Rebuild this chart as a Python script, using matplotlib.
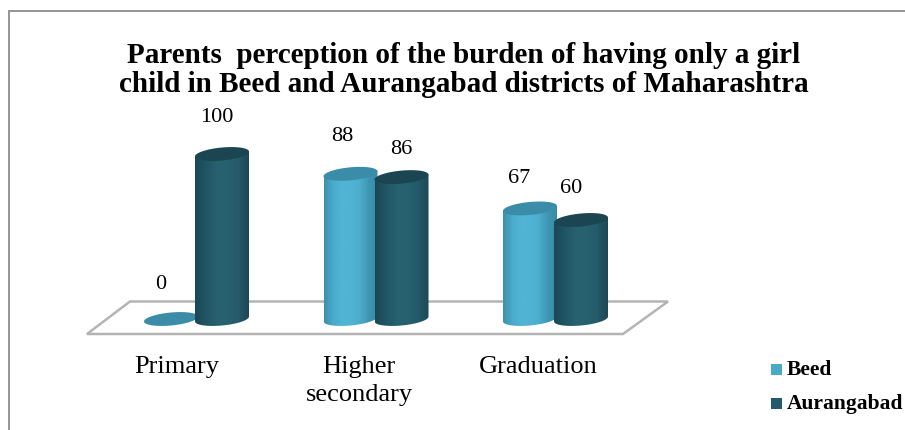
import numpy as np
import matplotlib
matplotlib.use("Agg")
import matplotlib.pyplot as plt
from matplotlib.path import Path
from matplotlib.patches import PathPatch, Polygon, Rectangle
from matplotlib.colors import LinearSegmentedColormap

W, H = 905, 431
categories = ["Primary", "Higher\nsecondary", "Graduation"]
beed = [0, 88, 67]
aurangabad = [100, 86, 60]
series_names = ["Beed", "Aurangabad"]
title = ("Parents  perception of the burden of having only a girl\n"
         "child in Beed and Aurangabad districts of Maharashtra")

plt.rcParams["font.family"] = ["Liberation Serif", "DejaVu Serif"]

# pixel geometry of the value/category scales
PX_PER_UNIT = 1.65
BASE_PX = 320.0
GROUP_PX = 179.5
FIRST_PX = 196.5
OFFSET = 25.5 / GROUP_PX
BAR_W = 27.0 / GROUP_PX
ELL_B = 6.5 / PX_PER_UNIT
SHEAR = 0.09 * GROUP_PX / PX_PER_UNIT  # value units per category unit

# label nudges in pixels (dx from bar centre, dy above bar top)
beed_nudge = [(-10, 35), (-8, 38), (-11, 31)]
aur_nudge = [(-5, 37), (0, 29), (-10, 32)]
cat_nudge = [-20, -17, -17]

fig = plt.figure(figsize=(W / 100, H / 100), dpi=100)
ax = fig.add_axes([0, 0, 1, 1])
ax.set_xlim(-FIRST_PX / GROUP_PX, (W - FIRST_PX) / GROUP_PX)
ax.set_ylim(-(H - BASE_PX) / PX_PER_UNIT, BASE_PX / PX_PER_UNIT)
ax.set_aspect("auto")
ax.axis("off")


def px(x, y):
    return (x / W, 1 - y / H)


# outer chart frame
ax.plot([px(8.5, 0)[0], px(8.5, 0)[0], 1], [0, px(0, 11.5)[1], px(0, 11.5)[1]],
        transform=ax.transAxes, color="#8c8c8c", lw=1.3, solid_joinstyle="miter", zorder=1)

# floor
floor = [px(87, 335), px(130, 302.5), px(668, 302.5), px(623, 335)]
ax.add_patch(Polygon(floor, closed=True, transform=ax.transAxes, facecolor="white",
                     edgecolor="#b4b4b4", lw=1.8, zorder=2))

light = LinearSegmentedColormap.from_list(
    "l", ["#3d90ab", "#4aabca", "#50b4d5", "#50b4d5", "#4cadcc", "#3f96b3", "#3a8aa5"])
dark = LinearSegmentedColormap.from_list(
    "d", ["#1b4856", "#215565", "#27606f", "#27616f", "#245a69", "#1c4855"])
top_light, top_dark = "#3b8ca8", "#1b4651"


def ellipse(cx, cy):
    t = np.linspace(0, 2 * np.pi, 90)
    dx = BAR_W * np.cos(t)
    return cx + dx, cy + ELL_B * np.sin(t) + SHEAR * dx


def cylinder(cx, value, cmap, top_color, z):
    if value > 0:
        t = np.linspace(np.pi, 2 * np.pi, 50)
        dx = BAR_W * np.cos(t)
        bx, by = cx + dx, ELL_B * np.sin(t) + SHEAR * dx
        tt = t[::-1]
        dxt = BAR_W * np.cos(tt)
        ux, uy = cx + dxt, value + SHEAR * dxt
        verts = np.column_stack([np.r_[bx, ux, bx[0]], np.r_[by, uy, by[0]]])
        clip = PathPatch(Path(verts), transform=ax.transData, facecolor="none", edgecolor="none")
        ax.add_patch(clip)
        im = ax.imshow(np.linspace(0, 1, 128)[None, :], cmap=cmap, aspect="auto",
                       extent=[cx - BAR_W, cx + BAR_W, -ELL_B * 2, value + ELL_B * 2],
                       zorder=z, interpolation="bilinear")
        im.set_clip_path(clip)
    ex, ey = ellipse(cx, value)
    ax.fill(ex, ey, color=top_color, zorder=z + 0.1, lw=0)


for i, (b, a) in enumerate(zip(beed, aurangabad)):
    cylinder(i - OFFSET, b, light, top_light, 3 + i)
    cylinder(i + OFFSET, a, dark, top_dark, 3.5 + i)
    ax.text(i - OFFSET + beed_nudge[i][0] / GROUP_PX, b + beed_nudge[i][1] / PX_PER_UNIT,
            str(b), ha="center", va="center", fontsize=16, color="black", zorder=10)
    ax.text(i + OFFSET + aur_nudge[i][0] / GROUP_PX, a + aur_nudge[i][1] / PX_PER_UNIT,
            str(a), ha="center", va="center", fontsize=16, color="black", zorder=10)
    ax.text(i + cat_nudge[i] / GROUP_PX, -(356 - BASE_PX) / PX_PER_UNIT, categories[i],
            ha="center", va="top", fontsize=19, color="black", linespacing=1.35, zorder=10)

ax.text(*px(464, 70), title, transform=ax.transAxes, ha="center", va="center",
        fontsize=21, fontweight="bold", color="black", linespacing=1.14, zorder=10)

# legend
for name, col, y in zip(series_names, ["#4aaac6", "#235a6b"], [370.5, 404.5]):
    ax.add_patch(Rectangle(px(771, y + 5.5), 11 / W, 11 / H, transform=ax.transAxes,
                           facecolor=col, edgecolor="none", zorder=10))
    ax.text(*px(787, y), name, transform=ax.transAxes, ha="left", va="center",
            fontsize=15.5, fontweight="bold", color="black", zorder=10)

fig.savefig("out.png", dpi=100)
